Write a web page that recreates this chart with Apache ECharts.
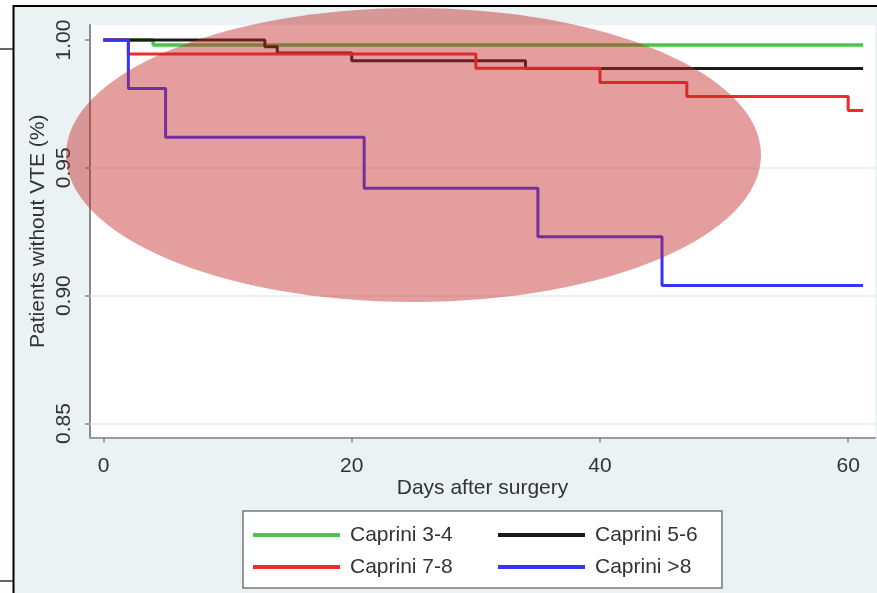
<!DOCTYPE html>
<html>
<head>
<meta charset="utf-8">
<script src="https://cdn.jsdelivr.net/npm/echarts@6/dist/echarts.min.js"></script>
<style>
html,body{margin:0;padding:0;background:#fff;}
#chart{width:877px;height:593px;}
</style>
</head>
<body>
<div id="chart"></div>
<script>
// ---- data ----
const seriesNames = ['Caprini 3-4', 'Caprini 5-6', 'Caprini 7-8', 'Caprini >8'];
const days34 = [0, 4, 61.2];
const surv34 = [1.0, 0.998, 0.998];
const days56 = [0, 13, 14, 20, 34, 61.2];
const surv56 = [1.0, 0.9974, 0.9949, 0.9919, 0.9889, 0.9889];
const days78 = [0, 2, 30, 40, 47, 60, 61.2];
const surv78 = [1.0, 0.9945, 0.989, 0.9834, 0.9779, 0.9724, 0.9724];
const days8p = [0, 2, 5, 21, 35, 45, 61.2];
const surv8p = [1.0, 0.981, 0.962, 0.942, 0.923, 0.904, 0.904];
const xTicks = [0, 20, 40, 60];
const yTicks = [0.85, 0.90, 0.95, 1.00];
const yGrid = [0.85, 0.90, 0.95];

const FONT = "'Liberation Sans', Arial, sans-serif";
const pair = (xs, ys) => xs.map((x, i) => [x, ys[i]]);

const colors = ['#4cc44c', '#1a1a1a', '#f22a2a', '#3434ff'];
const sets = [pair(days34, surv34), pair(days56, surv56), pair(days78, surv78), pair(days8p, surv8p)];

const lineSeries = seriesNames.map((n, i) => ({
  name: n,
  type: 'line',
  step: 'end',
  data: sets[i],
  showSymbol: false,
  symbol: 'none',
  z: 3,
  lineStyle: { color: colors[i], width: i === 0 ? 3.5 : 3 },
  itemStyle: { color: colors[i] }
}));

const chart = echarts.init(document.getElementById('chart'), null, { renderer: 'canvas' });
chart.setOption({
  animation: false,
  backgroundColor: '#ffffff',
  textStyle: { fontFamily: FONT },
  grid: {
    left: 90, right: 2, top: 25, bottom: 155.5,
    containLabel: false, outerBoundsMode: 'none',
    show: true, backgroundColor: '#ffffff', borderWidth: 0
  },
  xAxis: {
    type: 'value',
    min: -1.09, max: 62.16,
    name: 'Days after surgery',
    nameLocation: 'middle',
    nameGap: 40,
    nameMoveOverlap: false,
    nameTextStyle: { fontSize: 21, color: '#333', fontFamily: FONT },
    axisLine: { show: true, onZero: false, lineStyle: { color: '#9a9a9a', width: 2 } },
    axisTick: { show: true, length: 5, customValues: xTicks, lineStyle: { color: '#888', width: 1.5 } },
    axisLabel: { customValues: xTicks, margin: 18, fontSize: 21, color: '#333', fontFamily: FONT },
    splitLine: { show: false }
  },
  yAxis: {
    type: 'value',
    min: 0.84453, max: 1.00587,
    name: 'Patients without VTE (%)',
    nameLocation: 'middle',
    nameGap: 41,
    nameMoveOverlap: false,
    nameTextStyle: { fontSize: 21, color: '#333', fontFamily: FONT },
    axisLine: { show: true, onZero: false, lineStyle: { color: '#8a8a8a', width: 2 } },
    axisTick: { show: true, length: 5, customValues: yTicks, lineStyle: { color: '#888', width: 1.5 } },
    axisLabel: { customValues: yTicks, rotate: 90, margin: 15, fontSize: 21, color: '#333', fontFamily: FONT,
      formatter: v => Number(v).toFixed(2) },
    splitLine: { show: false }
  },
  legend: [
    {
      data: [seriesNames[0], seriesNames[2]],
      orient: 'vertical', left: 253, top: 523, padding: 0,
      itemWidth: 87, itemHeight: 4, itemGap: 8, icon: 'rect',
      textStyle: { fontSize: 21, lineHeight: 24, color: '#333', fontFamily: FONT, padding: [0, 0, 0, 5] },
      selectedMode: false
    },
    {
      data: [seriesNames[1], seriesNames[3]],
      orient: 'vertical', left: 498, top: 523, padding: 0,
      itemWidth: 87, itemHeight: 4, itemGap: 8, icon: 'rect',
      textStyle: { fontSize: 21, lineHeight: 24, color: '#333', fontFamily: FONT, padding: [0, 0, 0, 5] },
      selectedMode: false
    }
  ],
  graphic: [
    { type: 'rect', z: -5, shape: { x: 13.5, y: 6, width: 900, height: 700 },
      style: { fill: '#eaf2f3', stroke: '#000', lineWidth: 2 } },
    { type: 'line', z: -5, shape: { x1: 0, y1: 49, x2: 13, y2: 49 }, style: { stroke: '#333', lineWidth: 1.5 } },
    { type: 'line', z: -5, shape: { x1: 0, y1: 581, x2: 13, y2: 581 }, style: { stroke: '#333', lineWidth: 1.5 } },
    { type: 'rect', z: 1, shape: { x: 243, y: 511, width: 479, height: 77 },
      style: { fill: '#ffffff', stroke: '#777', lineWidth: 1.5 } },
    { type: 'ellipse', z: 100, shape: { cx: 413.5, cy: 155, rx: 347.5, ry: 147 },
      style: { fill: 'rgba(196, 40, 40, 0.45)' } }
  ],
  series: [
    {
      name: 'grid', type: 'line', data: [], z: 1, silent: true,
      markLine: {
        z: 1, silent: true, symbol: 'none', label: { show: false },
        lineStyle: { color: '#e4ecee', width: 1.5, type: 'solid' },
        data: yGrid.map(v => ({ yAxis: v }))
      }
    }
  ].concat(lineSeries)
});
</script>
</body>
</html>
